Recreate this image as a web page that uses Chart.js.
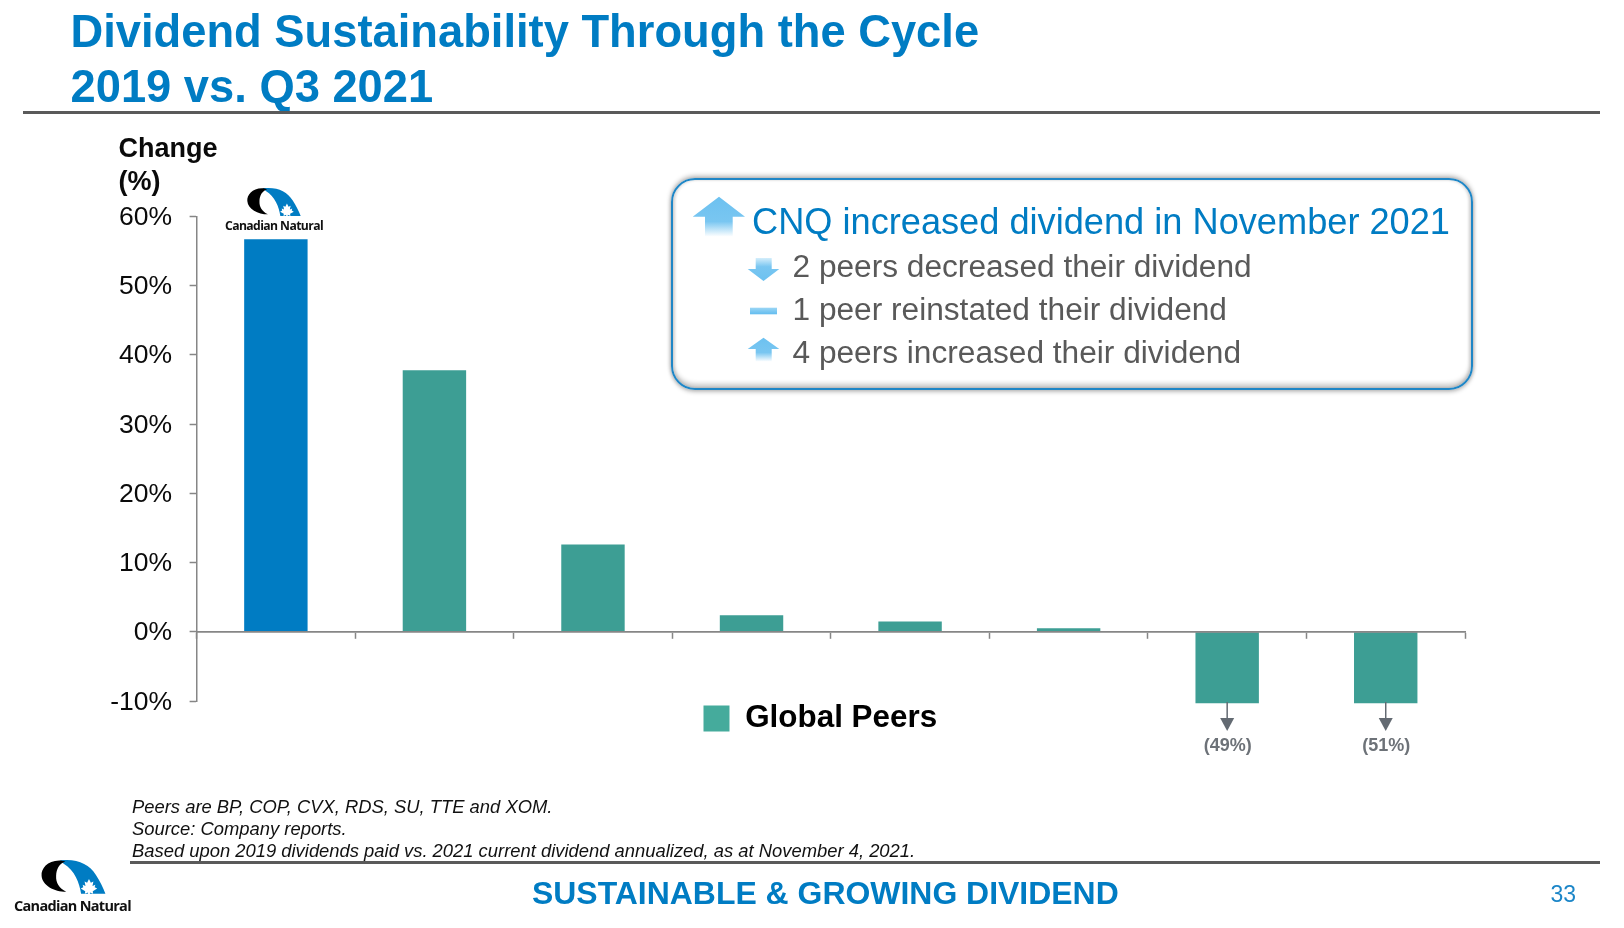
<!DOCTYPE html>
<html><head><meta charset="utf-8">
<script src="https://cdn.jsdelivr.net/npm/chart.js@4"></script>
<style>
html,body{margin:0;padding:0;background:#fff}
#page{position:relative;width:1624px;height:928px;overflow:hidden;font-family:"Liberation Sans",Arial,sans-serif}
#chart{position:absolute;left:0;top:0}
.t{position:absolute;white-space:nowrap;line-height:normal}
.rule{position:absolute;background:#5a5a5a;height:3px}
.title{font-weight:700;font-size:45.3px;color:#007cc3;left:70.5px}
.axt{font-weight:700;font-size:27px;color:#0a0a0a;left:118.5px}
.note{font-style:italic;font-size:18.4px;color:#111;left:132px}
.sub{font-size:31.65px;color:#595959;left:792.5px}
.logoText{font-family:"Open Sans",sans-serif;font-weight:700;color:#111}
#box{position:absolute;left:671px;top:178px;width:797.5px;height:207.5px;border:2px solid #1f86c6;border-radius:24px;
 box-shadow:0 -2px 5px rgba(0,0,0,.30),0 2px 4px rgba(0,0,0,.25),inset 0 -4px 5px rgba(0,0,0,.22),inset -2px 0 3px rgba(0,0,0,.12),inset 2px 0 3px rgba(0,0,0,.10)}
svg{position:absolute;overflow:visible}
</style></head>
<body><div id="page">
<canvas id="chart" width="1624" height="928"></canvas>

<div class="t title" style="top:5.7px">Dividend Sustainability Through the Cycle</div>
<div class="t title" style="top:60.7px">2019 vs. Q3 2021</div>
<div class="rule" style="left:23px;top:111px;width:1577px"></div>

<div class="t axt" style="top:132.5px">Change</div>
<div class="t axt" style="top:165.7px">(%)</div>

<svg width="0" height="0" style="left:0;top:0">
 <defs>
  <linearGradient id="up" x1="0" y1="0" x2="0" y2="1">
   <stop offset="0" stop-color="#6cc1f0"/><stop offset=".62" stop-color="#79c6f1"/><stop offset="1" stop-color="#ffffff"/>
  </linearGradient>
  <linearGradient id="down" x1="0" y1="1" x2="0" y2="0">
   <stop offset="0" stop-color="#6cc1f0"/><stop offset=".62" stop-color="#79c6f1"/><stop offset="1" stop-color="#d4eefb"/>
  </linearGradient>
  <linearGradient id="dash" x1="0" y1="0" x2="0" y2="1">
   <stop offset="0" stop-color="#9bd6f5"/><stop offset="1" stop-color="#62bcef"/>
  </linearGradient>
  <symbol id="logo" viewBox="85 10 212 112" preserveAspectRatio="none">
   <path fill="#007cc3" d="M148 15C200 8 240 25 262 60C275 80 285 100 292 118L215 118C210 85 195 45 160 25Z"/>
   <path fill="#000" d="M152 15C110 12 88 40 90 62C92 92 130 112 168 112C145 100 135 85 136 62C137 42 145 25 165 18Z"/>
   <path fill="#fff" d="M240 72L246 84L254 80L251 94L260 90L258 98L266 102L252 110L253 118L243 114L243 122L237 122L237 114L227 118L228 110L214 102L222 98L220 90L229 94L226 80L234 84Z"/>
  </symbol>
 </defs>
</svg>

<svg style="left:246px;top:187px" width="56" height="30"><use href="#logo" width="56" height="30"/></svg>
<div class="t logoText" style="left:225px;top:217px;font-size:12.2px;letter-spacing:-.6px">Canadian Natural</div>

<div id="box"></div>
<svg style="left:0;top:0" width="1624" height="928">
 <path fill="url(#up)" d="M719 196.7L745 216.7L732.7 216.7L732.7 236.7L705 236.7L705 216.7L692.7 216.7Z"/>
 <path fill="url(#down)" d="M755.7 258L771.7 258L771.7 269L779.3 269L763.5 281L747.7 269L755.7 269Z"/>
 <rect fill="url(#dash)" x="750" y="307.7" width="27" height="6.6"/>
 <path fill="url(#up)" d="M763.5 337.7L779.3 349L771.7 349L771.7 361.7L755.7 361.7L755.7 349L747.7 349Z"/>
</svg>
<div class="t" style="left:752px;top:201.4px;font-size:36.2px;color:#007cc3">CNQ increased dividend in November 2021</div>
<div class="t sub" style="top:248.3px">2 peers decreased their dividend</div>
<div class="t sub" style="top:291px">1 peer reinstated their dividend</div>
<div class="t sub" style="top:334px">4 peers increased their dividend</div>

<div class="t note" style="top:796px">Peers are BP, COP, CVX, RDS, SU, TTE and XOM.</div>
<div class="t note" style="top:817.7px">Source: Company reports.</div>
<div class="t note" style="top:839.7px">Based upon 2019 dividends paid vs. 2021 current dividend annualized, as at November 4, 2021.</div>
<div class="rule" style="left:130px;top:861px;width:1470px"></div>

<svg style="left:39.5px;top:859px" width="67" height="36"><use href="#logo" width="67" height="36"/></svg>
<div class="t logoText" style="left:14px;top:896px;font-size:14.5px;letter-spacing:-.7px">Canadian Natural</div>

<div class="t" style="left:532px;top:875.1px;font-weight:700;font-size:31.95px;color:#007cc3">SUSTAINABLE &amp; GROWING DIVIDEND</div>
<div class="t" style="left:1550.5px;top:880.7px;font-size:23px;color:#1c86c8">33</div>
</div>

<script>
const categories = ['CNQ','Peer 1','Peer 2','Peer 3','Peer 4','Peer 5','Peer 6','Peer 7'];
const cnqValues  = [56.7,null,null,null,null,null,null,null];
const peerValues = [null,37.8,12.6,2.4,1.5,0.5,-49,-51];
const yTicks = {min:-10,max:60,step:10};
const AXIS = '#868686', BLUE = '#007cc3', TEAL = '#3d9e94', LEGEND_TEAL = '#45ab9c', MARK = '#636a72';

const belowAxisMarks = {
  id:'belowAxisMarks',
  afterDatasetsDraw(chart){
    const {ctx,scales:{x,y},chartArea:{bottom}} = chart;
    ctx.save();
    peerValues.forEach((v,i)=>{
      if (v===null || v>=y.min) return;
      const px = x.getPixelForValue(i);
      ctx.strokeStyle = MARK; ctx.fillStyle = MARK; ctx.lineWidth = 1.5;
      ctx.beginPath(); ctx.moveTo(px,bottom+1); ctx.lineTo(px,bottom+18); ctx.stroke();
      ctx.beginPath(); ctx.moveTo(px-7,bottom+17); ctx.lineTo(px+7,bottom+17); ctx.lineTo(px,bottom+30); ctx.closePath(); ctx.fill();
      ctx.font = '700 18px "Liberation Sans"'; ctx.fillStyle = '#6d7278';
      ctx.textAlign = 'center'; ctx.textBaseline = 'middle';
      ctx.fillText('('+Math.abs(v)+'%)',px+0.5,bottom+45);
    });
    ctx.restore();
  }
};
const legendShift = { id:'legendShift', afterLayout(chart){
  chart.legend.left -= 10.5; chart.legend.right -= 10.5; chart.legend.top += 1.8; chart.legend.bottom += 1.8;
} };

new Chart(document.getElementById('chart'),{
  type:'bar',
  data:{labels:categories,datasets:[
    {label:'Canadian Natural',data:cnqValues,backgroundColor:BLUE,grouped:false,barPercentage:.4,categoryPercentage:1,clip:{left:0,top:0,right:0,bottom:2.3}},
    {label:'Global Peers',data:peerValues,backgroundColor:TEAL,grouped:false,barPercentage:.4,categoryPercentage:1,clip:{left:0,top:0,right:0,bottom:2.3}}
  ]},
  options:{
    responsive:false,animation:false,devicePixelRatio:1,
    layout:{padding:{left:0,top:216.5,right:159,bottom:185.6}},
    plugins:{
      tooltip:{enabled:false},title:{display:false},
      legend:{display:true,position:'bottom',fullSize:false,
        labels:{boxWidth:26,boxHeight:26,padding:0,color:'#000',font:{family:'"Liberation Sans"',size:31.4,weight:'700'},
          filter:i=>i.text==='Global Peers',
          generateLabels(c){return Chart.defaults.plugins.legend.labels.generateLabels(c).map(l=>({...l,fillStyle:LEGEND_TEAL,strokeStyle:LEGEND_TEAL,lineWidth:0}));}
        }}
    },
    scales:{
      x:{position:{y:0},offset:true,
        grid:{drawOnChartArea:false,drawTicks:true,tickLength:6,tickColor:AXIS,tickWidth:1.5,color:AXIS,offset:true},
        border:{display:true,color:AXIS,width:1.8,z:1},
        ticks:{display:false,autoSkip:false}},
      y:{min:yTicks.min,max:yTicks.max,
        afterFit(s){s.width=196.6;},
        grid:{drawOnChartArea:false,drawTicks:true,tickLength:7,tickColor:AXIS,tickWidth:1.5,color:AXIS},
        border:{display:true,color:AXIS,width:1.5,z:1},
        ticks:{stepSize:yTicks.step,padding:17.6,labelOffset:1.2,color:'#0a0a0a',font:{family:'"Liberation Sans"',size:26.5},callback:v=>v+'%'}}
    }
  },
  plugins:[belowAxisMarks,legendShift]
});
</script>
</body></html>
